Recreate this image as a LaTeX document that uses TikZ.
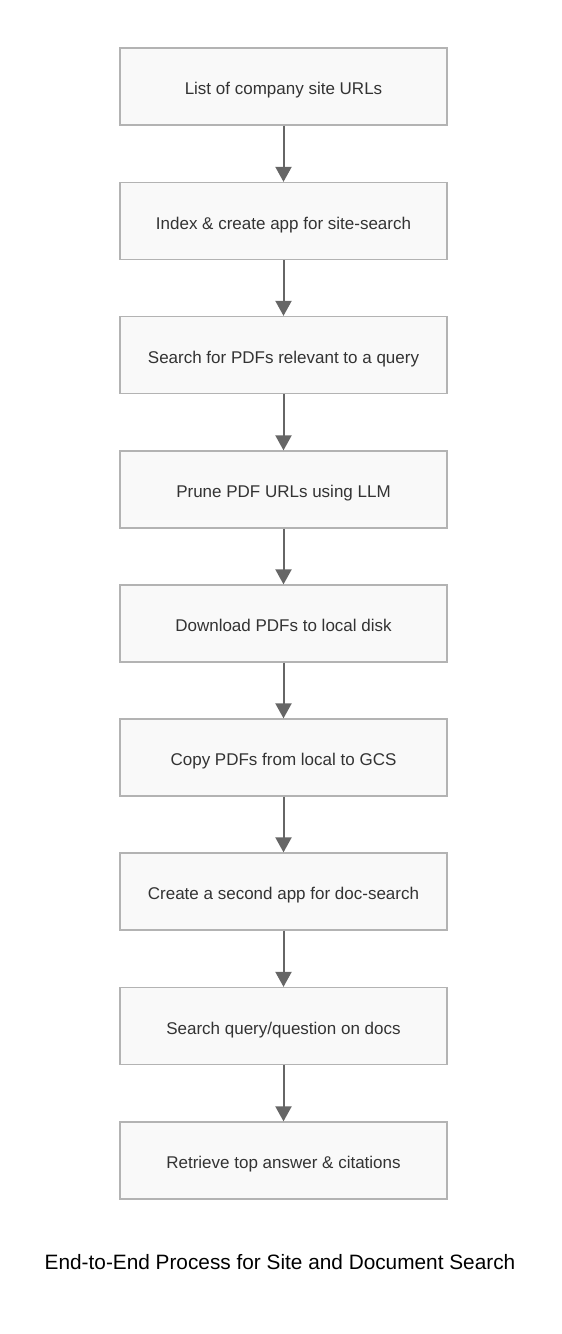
\documentclass[tikz,border=0pt]{standalone}
\usepackage{fontspec}
\setmainfont{Liberation Sans}
\usetikzlibrary{arrows.meta}
\definecolor{boxfill}{HTML}{F9F9F9}
\definecolor{boxline}{HTML}{B3B3B3}
\definecolor{arrowc}{HTML}{666666}
\definecolor{textc}{HTML}{333333}
\tikzset{
  stepbox/.style={draw=boxline, line width=1.3pt, fill=boxfill, minimum width=327pt, minimum height=77pt, inner sep=0pt, text height=18pt, text depth=1.2pt, text=textc, font=\fontsize{17pt}{20pt}\selectfont},
  flowarrow/.style={draw=arrowc, line width=2pt, -{Triangle[length=15pt,width=16pt]}}
}
\begin{document}
\begin{tikzpicture}[x=1pt,y=-1pt]
\useasboundingbox (0,0) rectangle (562,1334);
\node[stepbox] (n1) at (283.5,86.5) {List of company site URLs};
\node[stepbox] (n2) at (283.5,221) {Index \& create app for site-search};
\node[stepbox] (n3) at (283.5,355) {Search for PDFs relevant to a query};
\node[stepbox] (n4) at (283.5,489.5) {Prune PDF URLs using LLM};
\node[stepbox] (n5) at (283.5,623.5) {Download PDFs to local disk};
\node[stepbox] (n6) at (283.5,757.5) {Copy PDFs from local to GCS};
\node[stepbox] (n7) at (283.5,891.5) {Create a second app for doc-search};
\node[stepbox] (n8) at (283.5,1026) {Search query/question on docs};
\node[stepbox] (n9) at (283.5,1160.5) {Retrieve top answer \& citations};
\foreach \a/\b in {n1/n2,n2/n3,n3/n4,n4/n5,n5/n6,n6/n7,n7/n8,n8/n9}
  \draw[flowarrow] (\a.south) -- (\b.north);
\node[font=\fontsize{20.8pt}{25pt}\selectfont, text=black] (cap) at (280,1262) {End-to-End Process for Site and Document Search};
\end{tikzpicture}
\end{document}
